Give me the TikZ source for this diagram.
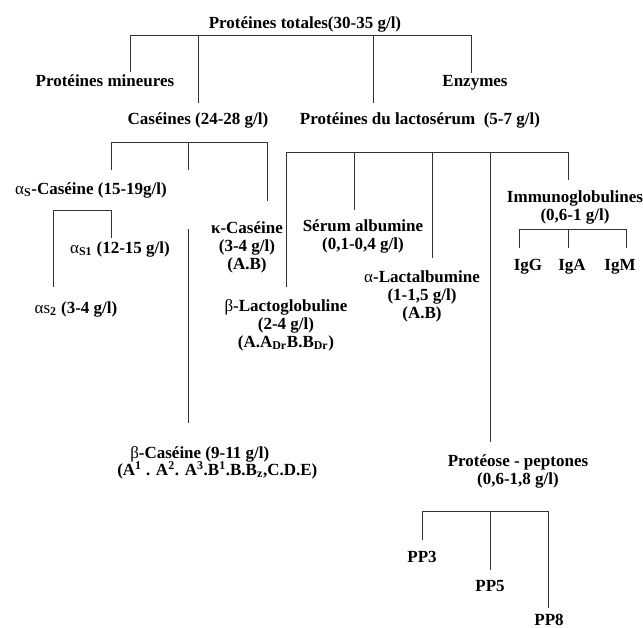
\documentclass[tikz,border=0pt]{standalone}
\usepackage{fontspec}
\setmainfont{Liberation Serif}
\begin{document}
\begin{tikzpicture}[x=0.75pt,y=-0.75pt,
  lbl/.style={font=\bfseries\fontsize{12.75}{13.5}\selectfont, inner sep=0pt, anchor=base, align=center},
  ln/.style={draw=black!80, line width=0.75pt}]
\useasboundingbox (0,0) rectangle (643,628);
% labels (multi-line nodes: base = baseline of the last line)
\node[lbl] (tot) at (305,28) {Protéines totales(30-35 g/l)};
\node[lbl] (min) at (105,86) {Protéines mineures};
\node[lbl] (enz) at (475,86) {Enzymes};
\node[lbl] (cas) at (198,124) {Caséines (24-28 g/l)};
\node[lbl] (lac) at (420,124) {Protéines du lactosérum\ \ (5-7 g/l)};
\node[lbl] (as) at (91,194) {{\mdseries α}\textsubscript{S}-Caséine (15-19g/l)};
\node[lbl] (as1) at (120,253) {{\mdseries α}\textsubscript{S1} (12-15 g/l)};
\node[lbl] (as2) at (76,313) {{\mdseries αs}\textsubscript{2} (3-4 g/l)};
\node[lbl] (kap) at (247,269) {κ-Caséine\\(3-4 g/l)\\(A.B)};
\node[lbl] (ser) at (363,249) {Sérum albumine\\(0,1-0,4 g/l)};
\node[lbl] (ig) at (575,220) {Immunoglobulines\\(0,6-1 g/l)};
\node[lbl] (igg) at (528,270) {IgG};
\node[lbl] (iga) at (572,270) {IgA};
\node[lbl] (igm) at (620,270) {IgM};
\node[lbl] (alac) at (422,318) {{\mdseries α}-Lactalbumine\\(1-1,5 g/l)\\(A.B)};
\node[lbl] (blg) at (286,347) {{\mdseries β}-Lactoglobuline\\(2-4 g/l)\\(A.A\textsubscript{Dr}B.B\textsubscript{Dr})};
\node[lbl, anchor=base west, align=left] (bcas) at (117,475) {\hspace*{9.75pt}{\mdseries β}-Caséine (9-11 g/l)\\[-1.2pt](A\textsuperscript{1} . A\textsuperscript{2}. A\textsuperscript{3}.B\textsuperscript{1}.B.B\textsubscript{z},C.D.E)};
\node[lbl] (pp) at (518,484) {Protéose - peptones\\(0,6-1,8 g/l)};
\node[lbl] (pp3) at (422,562) {PP3};
\node[lbl] (pp5) at (490,591) {PP5};
\node[lbl] (pp8) at (549,625) {PP8};
% junction coordinates
\coordinate (t1) at (130,35); \coordinate (t2) at (198,35); \coordinate (t3) at (373,35); \coordinate (t4) at (471,35);
\coordinate (minT) at (130,72); \coordinate (casT) at (198,103); \coordinate (lacT) at (373,103); \coordinate (enzT) at (471,73);
\coordinate (c1) at (111,142); \coordinate (c2) at (188,142); \coordinate (c3) at (267,142);
\coordinate (asT) at (111,170); \coordinate (c2e) at (188,170); \coordinate (kapT) at (267,201);
\coordinate (bcasS) at (188,229); \coordinate (bcasT) at (188,423);
\coordinate (s1) at (53,210); \coordinate (s2) at (111,210);
\coordinate (as1T) at (111,238); \coordinate (as2T) at (53,287);
\coordinate (w1) at (286,152); \coordinate (w2) at (354,152); \coordinate (w3) at (432,152); \coordinate (w4) at (490,152); \coordinate (w5) at (568,152);
\coordinate (blgT) at (286,287); \coordinate (serT) at (354,210); \coordinate (alacT) at (432,258); \coordinate (ppT) at (490,442); \coordinate (igT) at (568,180);
\coordinate (g1) at (519,229); \coordinate (g2) at (568,229); \coordinate (g3) at (626,229);
\coordinate (iggT) at (519,248); \coordinate (igaT) at (568,248); \coordinate (igmT) at (626,248);
\coordinate (p1) at (422,511); \coordinate (p2) at (490,511); \coordinate (p3) at (548,511);
\coordinate (pp3T) at (422,540); \coordinate (pp5T) at (490,570); \coordinate (pp8T) at (548,608);
% connectors
\draw[ln] (minT) -- (t1) -- (t4) -- (enzT);
\draw[ln] (t2) -- (casT);
\draw[ln] (t3) -- (lacT);
\draw[ln] (asT) -- (c1) -- (c3) -- (kapT);
\draw[ln] (c2) -- (c2e);
\draw[ln] (bcasS) -- (bcasT);
\draw[ln] (as2T) -- (s1) -- (s2) -- (as1T);
\draw[ln] (blgT) -- (w1) -- (w5) -- (igT);
\draw[ln] (w2) -- (serT);
\draw[ln] (w3) -- (alacT);
\draw[ln] (w4) -- (ppT);
\draw[ln] (iggT) -- (g1) -- (g3) -- (igmT);
\draw[ln] (g2) -- (igaT);
\draw[ln] (pp3T) -- (p1) -- (p3) -- (pp8T);
\draw[ln] (p2) -- (pp5T);
\end{tikzpicture}
\end{document}
